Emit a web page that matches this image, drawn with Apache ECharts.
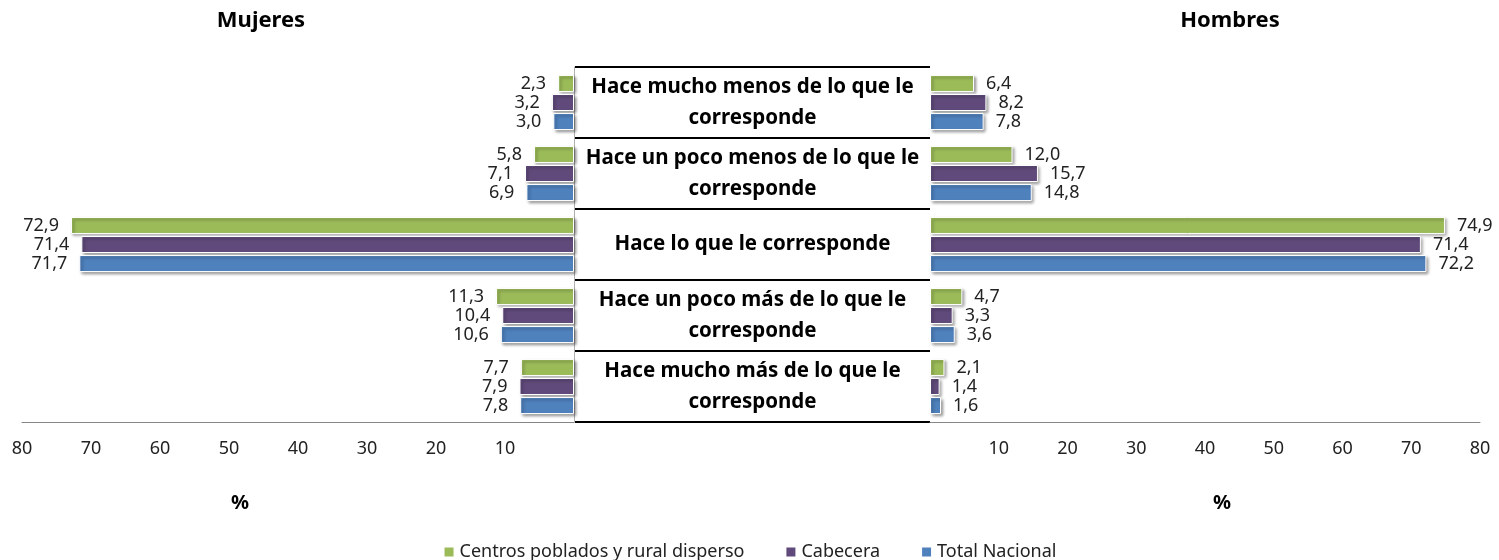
<!DOCTYPE html>
<head>
    <meta charset="utf-8">
    <title>ECharts</title>
</head>
<body style="margin:0">
    <div id="main" style="width:1499px;height:560px"></div>
    <script src="https://cdn.jsdelivr.net/npm/echarts@6/dist/echarts.min.js"></script>
    <script type="text/javascript">
    // categorias (de arriba hacia abajo)
    var categorias = [
        'Hace mucho menos de lo que le\ncorresponde',
        'Hace un poco menos de lo que le\ncorresponde',
        'Hace lo que le corresponde',
        'Hace un poco más de lo que le\ncorresponde',
        'Hace mucho más de lo que le\ncorresponde'
    ];
    var nombres = ['Centros poblados y rural disperso', 'Cabecera', 'Total Nacional'];
    var colores = ['#9BBB59', '#604A7B', '#4F81BD'];

    // Mujeres
    var mujCentros = [2.3, 5.8, 72.9, 11.3, 7.7];
    var mujCabecera = [3.2, 7.1, 71.4, 10.4, 7.9];
    var mujTotal = [3.0, 6.9, 71.7, 10.6, 7.8];
    // Hombres
    var homCentros = [6.4, 12.0, 74.9, 4.7, 2.1];
    var homCabecera = [8.2, 15.7, 71.4, 3.3, 1.4];
    var homTotal = [7.8, 14.8, 72.2, 3.6, 1.6];

    var fuente = '"Noto Sans", sans-serif';
    var myChart = echarts.init(document.getElementById('main'));

    function etiqueta(v) {
        return v.toFixed(1).replace('.', ',');
    }

    function serie(nombre, datos, color, lado) {
        return {
            name: nombre,
            type: 'bar',
            xAxisIndex: lado,
            yAxisIndex: lado,
            data: datos,
            barWidth: 17,
            barGap: '12%',
            itemStyle: {
                color: color,
                borderColor: '#fff',
                borderWidth: 1,
                shadowColor: 'rgba(0,0,0,0.4)',
                shadowBlur: 3,
                shadowOffsetX: 2,
                shadowOffsetY: 2
            },
            label: {
                show: true,
                position: lado === 0 ? 'left' : 'right',
                distance: 12,
                color: '#222',
                fontFamily: fuente,
                fontSize: 18,
                formatter: function (p) { return etiqueta(p.value); }
            }
        };
    }

    var ejeX = function (idx, inv) {
        return {
            gridIndex: idx,
            type: 'value',
            min: 0, max: 80, interval: 10,
            inverse: inv,
            axisLine: { show: true, lineStyle: { color: '#868686' } },
            axisTick: { show: false },
            splitLine: { show: false },
            axisLabel: {
                margin: 18,
                color: '#222',
                fontFamily: fuente,
                fontSize: 18,
                formatter: function (v) { return v === 0 ? '' : v; }
            }
        };
    };

    var option = {
        animation: false,
        grid: [
            { left: 22, right: 925, top: 67, bottom: 138 },
            { left: 930, right: 19, top: 67, bottom: 138 },
            { left: 575, right: 569, top: 67, bottom: 138 }
        ],
        xAxis: [
            ejeX(0, true),
            ejeX(1, false),
            { gridIndex: 2, type: 'value', min: 0, max: 1, show: false }
        ],
        yAxis: [
            {
                gridIndex: 0, type: 'category', data: categorias, inverse: true,
                position: 'right',
                axisLine: { show: true, lineStyle: { color: '#b0b0b0' } },
                axisTick: { show: false }, axisLabel: { show: false }
            },
            {
                gridIndex: 1, type: 'category', data: categorias, inverse: true,
                axisLine: { show: false }, axisTick: { show: false }, axisLabel: { show: false }
            },
            {
                gridIndex: 2, type: 'category', data: categorias, inverse: true,
                axisLine: { show: false }, axisTick: { show: false }, axisLabel: { show: false },
                splitLine: { show: true, lineStyle: { color: '#000', width: 2 } }
            }
        ],
        legend: {
            data: nombres,
            top: 538,
            left: 'center',
            icon: 'rect',
            itemWidth: 11,
            itemHeight: 11,
            itemGap: 40,
            textStyle: { color: '#222', fontFamily: fuente, fontSize: 18 }
        },
        graphic: [
            { type: 'text', x: 261, y: 21, style: { text: 'Mujeres', fill: '#000', font: 'bold 22px ' + fuente, align: 'center', verticalAlign: 'middle' } },
            { type: 'text', x: 1230, y: 21, style: { text: 'Hombres', fill: '#000', font: 'bold 22px ' + fuente, align: 'center', verticalAlign: 'middle' } },
            { type: 'text', x: 240, y: 503, style: { text: '%', fill: '#000', font: 'bold 20px ' + fuente, align: 'center', verticalAlign: 'middle' } },
            { type: 'text', x: 1222, y: 503, style: { text: '%', fill: '#000', font: 'bold 20px ' + fuente, align: 'center', verticalAlign: 'middle' } }
        ],
        series: [
            serie(nombres[0], mujCentros, colores[0], 0),
            serie(nombres[1], mujCabecera, colores[1], 0),
            serie(nombres[2], mujTotal, colores[2], 0),
            serie(nombres[0], homCentros, colores[0], 1),
            serie(nombres[1], homCabecera, colores[1], 1),
            serie(nombres[2], homTotal, colores[2], 1),
            {
                name: 'centro',
                type: 'bar',
                xAxisIndex: 2,
                yAxisIndex: 2,
                silent: true,
                barWidth: '100%',
                data: categorias.map(function () { return 1; }),
                itemStyle: { color: 'rgba(0,0,0,0)' },
                label: {
                    show: true,
                    position: 'inside',
                    color: '#000',
                    fontFamily: fuente,
                    fontWeight: 'bold',
                    fontSize: 20.5,
                    lineHeight: 31,
                    align: 'center',
                    formatter: function (p) { return p.name; }
                }
            }
        ]
    };

    myChart.setOption(option);
    </script>
</body>
